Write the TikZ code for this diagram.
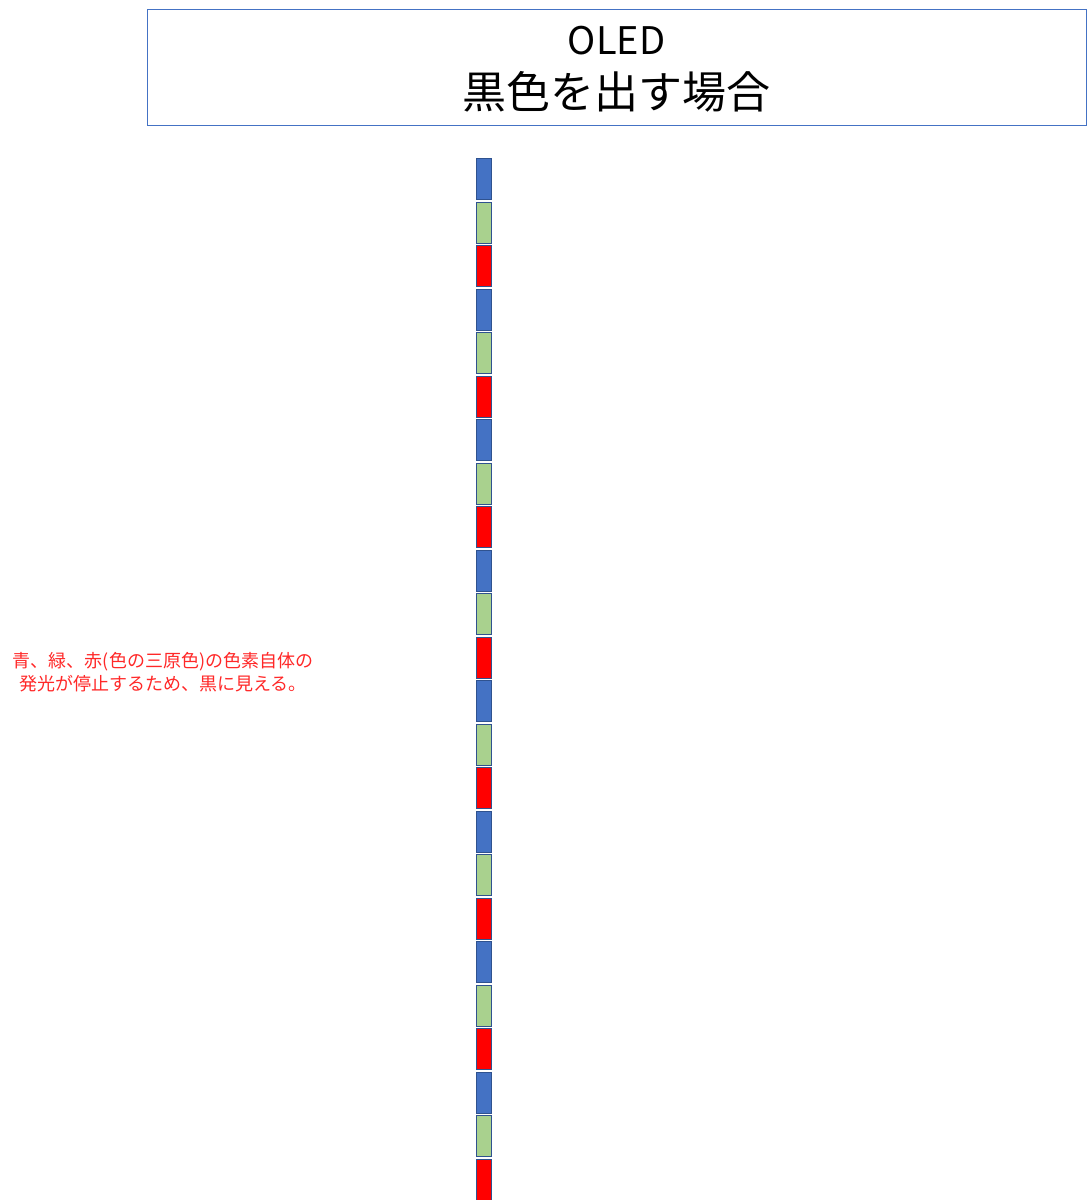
\documentclass[tikz,border=0pt]{standalone}
\usepackage{fontspec}
\setmainfont{Noto Sans CJK JP}
\usepackage{tikz}
\definecolor{boxline}{RGB}{68,114,196}
\definecolor{cellline}{RGB}{47,82,143}
\definecolor{pixblue}{RGB}{68,114,196}
\definecolor{pixgreen}{RGB}{169,209,142}
\definecolor{pixred}{RGB}{255,0,0}
\definecolor{notered}{RGB}{255,40,40}

\begin{document}
\begin{tikzpicture}[x=1pt,y=-1pt,
  titlebox/.style={draw=boxline, line width=0.8pt, minimum width=939pt, minimum height=116pt, inner sep=0pt},
  cell/.style={draw=cellline, line width=0.6pt, minimum width=15pt, minimum height=41pt, inner sep=0pt, anchor=north west}]
\useasboundingbox (0,0) rectangle (1087,1200);

\node [titlebox] (title) at (616.5,67) {};
\node (oled) at (616.5,41) {\fontsize{38}{40}\selectfont OLED};
\node (kuro) at (616.5,92) {\fontsize{44}{48}\selectfont 黒色を出す場合};

% pixel column
\foreach \i in {0,...,7} {
  \node [cell, fill=pixblue] (b\i) at (476, 158+130.5*\i) {};
  \node [cell, fill=pixgreen] (g\i) at (476, 201.5+130.5*\i) {};
  \node [cell, fill=pixred] (r\i) at (476, 245+130.5*\i) {};
}

\node [text=notered, align=center, font=\fontsize{18}{23}\selectfont] (note) at (163,672) {青、緑、赤(色の三原色)の色素自体の\\発光が停止するため、黒に見える。};
\end{tikzpicture}
\end{document}
